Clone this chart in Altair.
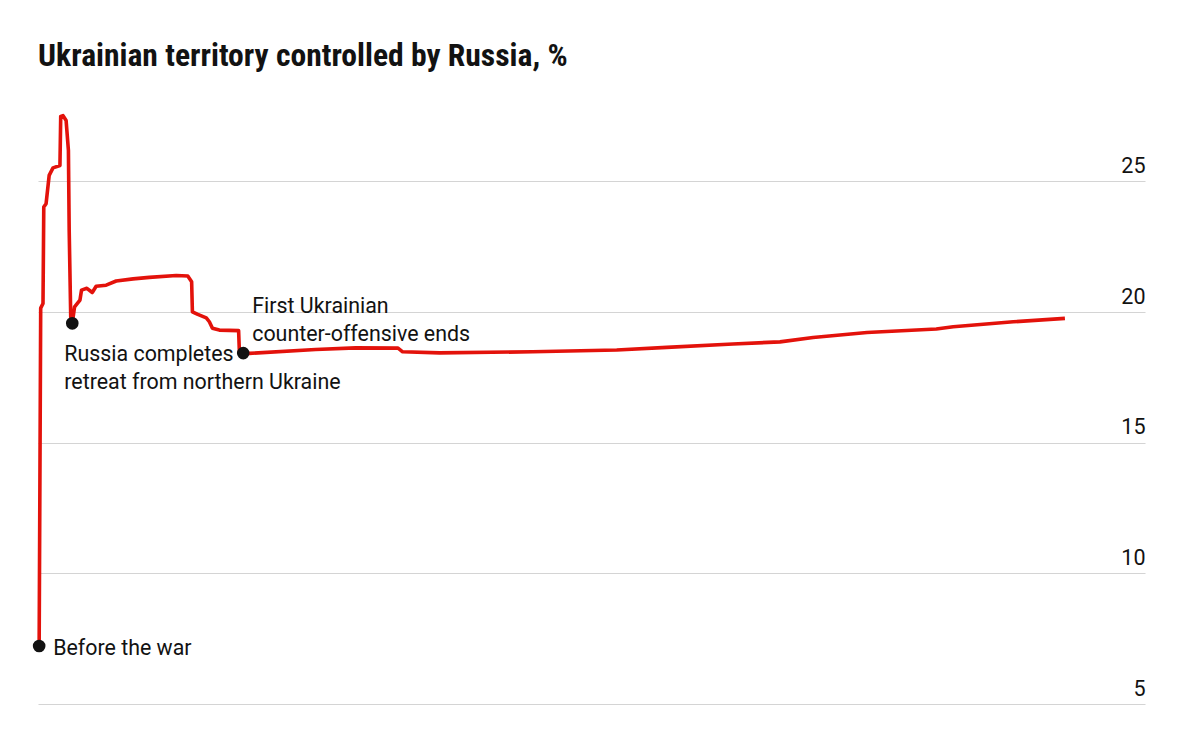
import altair as alt
import pandas as pd

# Share of Ukrainian territory controlled by Russia, %
dates = [
    "2022-02-22", "2022-02-24", "2022-02-27", "2022-02-28", "2022-03-03",
    "2022-03-07", "2022-03-12", "2022-03-21", "2022-03-22", "2022-03-25",
    "2022-03-29", "2022-04-01", "2022-04-02", "2022-04-04", "2022-04-06",
    "2022-04-09", "2022-04-16", "2022-04-18", "2022-04-25", "2022-05-02",
    "2022-05-07", "2022-05-20", "2022-06-02", "2022-06-24", "2022-07-15",
    "2022-08-19", "2022-09-03", "2022-09-08", "2022-09-09", "2022-09-16",
    "2022-09-27", "2022-10-01", "2022-10-05", "2022-10-14", "2022-11-08",
    "2022-11-09", "2022-11-14", "2022-11-22", "2023-02-16", "2023-04-09",
    "2023-06-03", "2023-06-09", "2023-07-27", "2023-11-25", "2024-03-13",
    "2024-05-17", "2024-08-11", "2024-10-11", "2024-11-23", "2025-02-01",
    "2025-05-02", "2025-05-24", "2025-08-10", "2025-10-16",
]
values = [
    7.22, 20.15, 20.33, 24.02, 24.15,
    25.23, 25.52, 25.61, 27.49, 27.52,
    27.33, 26.19, 23.13, 19.82, 19.57,
    20.20, 20.46, 20.84, 20.91, 20.75,
    20.99, 21.03, 21.19, 21.27, 21.33,
    21.40, 21.38, 21.16, 20.01, 19.91,
    19.78, 19.63, 19.38, 19.31, 19.29,
    18.48, 18.43, 18.42, 18.57, 18.63,
    18.62, 18.48, 18.44, 18.48, 18.55,
    18.65, 18.78, 18.86, 19.03, 19.22,
    19.35, 19.44, 19.63, 19.76,
]

# Annotated events
event_dates = ["2022-02-22", "2022-04-06", "2022-11-14"]
event_values = [7.22, 19.57, 18.43]
event_labels = [
    "Before the war",
    "Russia completes\nretreat from northern Ukraine",
    "First Ukrainian\ncounter-offensive ends",
]

y_ticks = [5, 10, 15, 20, 25]
x_domain = ["2022-02-20T12:00:00", "2026-01-28T00:00:00"]
y_domain = [5, 28.5]

series = pd.DataFrame({"date": dates, "value": values})
events = pd.DataFrame({"date": event_dates, "value": event_values, "label": event_labels})

FONT = "Roboto"
TITLE_FONT = "Noto Sans Condensed, Liberation Sans Narrow, Roboto Condensed, Roboto"
RED = "#E3120B"
INK = "#121212"

x_enc = alt.X("date:T", scale=alt.Scale(domain=x_domain, nice=False), axis=None)
y_enc = alt.Y(
    "value:Q",
    scale=alt.Scale(domain=y_domain, nice=False, zero=False),
    axis=alt.Axis(
        orient="right",
        values=y_ticks,
        grid=True,
        gridColor="#d4d4d4",
        gridWidth=1.2,
        domain=False,
        ticks=False,
        tickSize=0,
        labelAlign="right",
        labelBaseline="alphabetic",
        labelPadding=0,
        labelOffset=-9,
        labelFont=FONT,
        labelFontSize=21.5,
        labelColor=INK,
        title=None,
    ),
)

line = alt.Chart(series).mark_line(color=RED, strokeWidth=3.6, strokeJoin="round").encode(
    x=x_enc, y=y_enc
)

dots = alt.Chart(events).mark_circle(color=INK, opacity=1, size=160).encode(
    x="date:T", y="value:Q"
)

def label_layer(idx, dx, dy):
    return alt.Chart(events.iloc[[idx]]).mark_text(
        align="left",
        baseline="alphabetic",
        dx=dx,
        dy=dy,
        font=FONT,
        fontSize=21.4,
        color=INK,
        lineBreak="\n",
        lineHeight=28,
    ).encode(x="date:T", y="value:Q", text="label:N")

labels = label_layer(0, 14, 9) + label_layer(1, -8, 38) + label_layer(2, 9, -40)

chart = (
    alt.layer(line, dots, labels)
    .properties(
        width=1107,
        height=614,
        background="white",
        padding={"left": 30, "top": 82, "right": 40, "bottom": 20},
        autosize=alt.AutoSizeParams(type="none"),
        title=alt.Title(
            "Ukrainian territory controlled by Russia, %",
            anchor="start",
            frame="group",
            baseline="alphabetic",
            offset=-8,
            font=TITLE_FONT,
            fontSize=31.6,
            fontWeight="bold",
            color=INK,
        ),
    )
    .configure_view(strokeWidth=0, strokeOpacity=0)
)

chart.save("out.html", embed_options={"renderer": "svg", "actions": False})
